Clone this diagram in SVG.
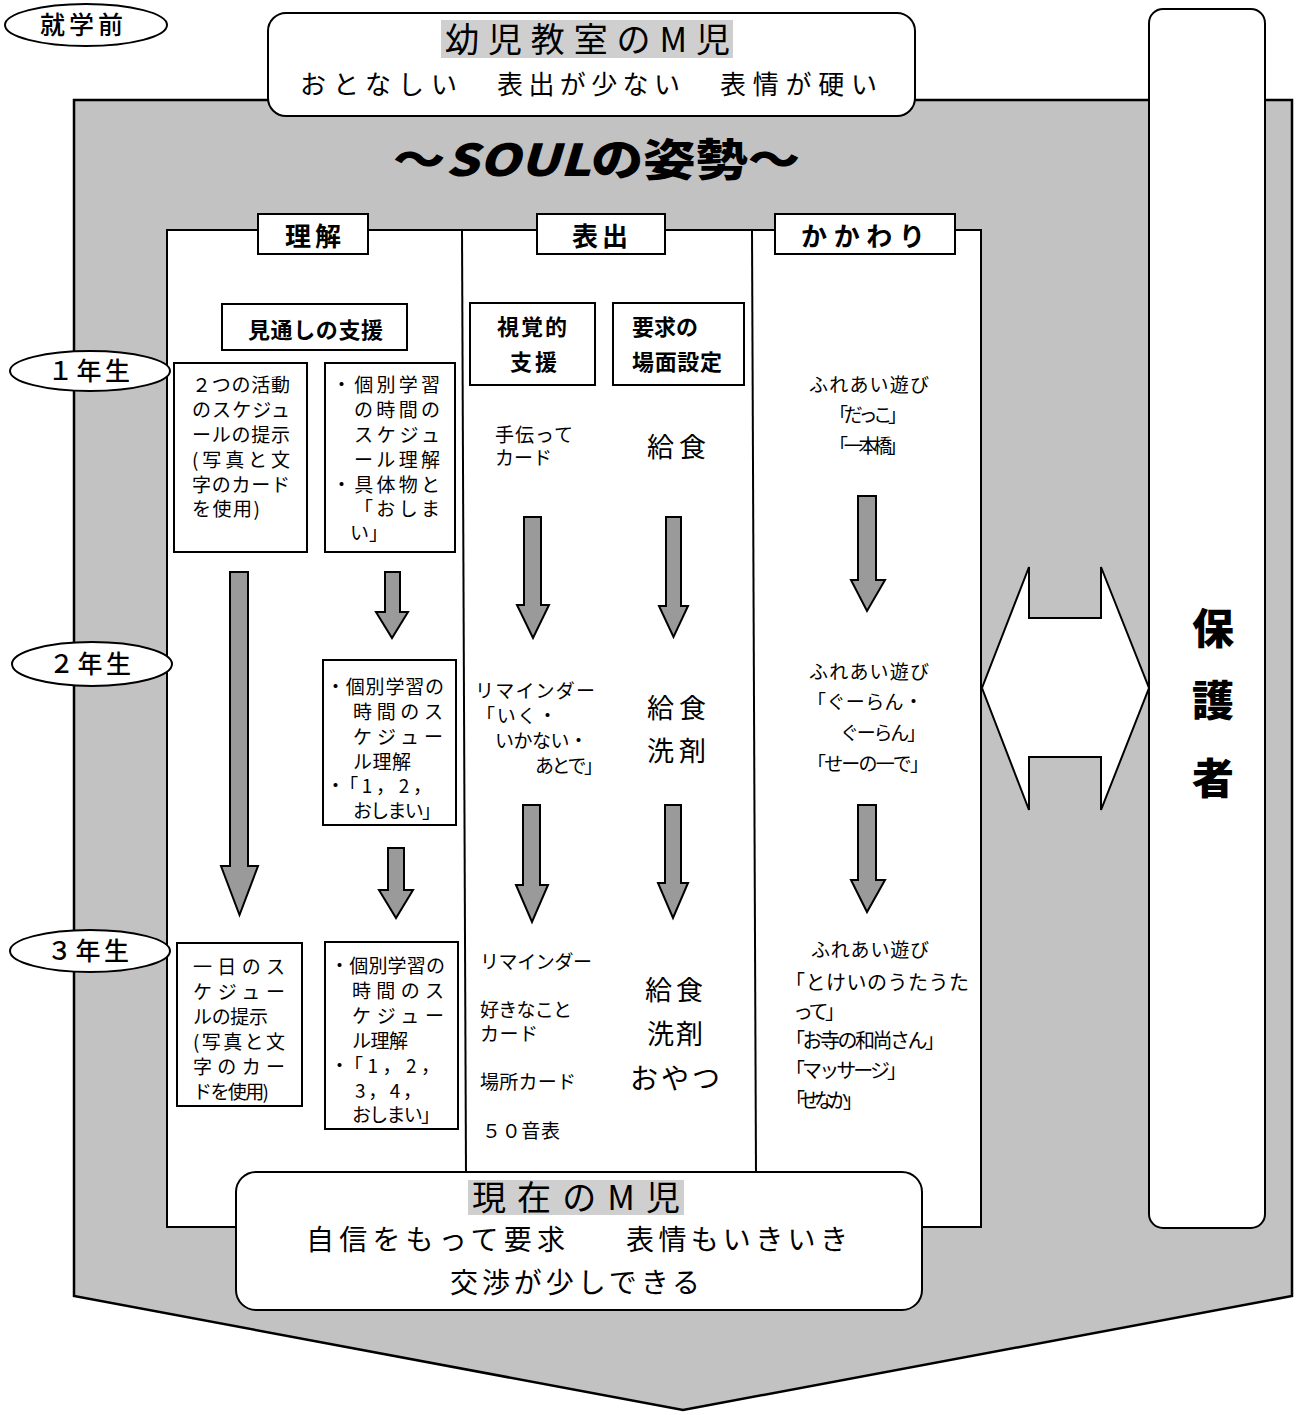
<svg xmlns="http://www.w3.org/2000/svg" width="1300" height="1415" viewBox="0 0 1300 1415">
<style>
.t{font-family:"Noto Sans CJK JP","Noto Sans",sans-serif;fill:#000}
.b{font-weight:700}
.box{fill:#fff;stroke:#000;stroke-width:2}
.arr{fill:#9a9a9a;stroke:#000;stroke-width:2;stroke-linejoin:miter}
.hl{fill:#cfcfcf}
.ln{stroke:#000;stroke-width:2;fill:none}
</style>
<rect width="1300" height="1415" fill="#fff"/>
<g id="background">
<path d="M74 100 H1292 V1296 L683 1410 L74 1296 Z" fill="#c2c2c2" stroke="#000" stroke-width="2.5"/>
<rect x="167" y="230" width="814" height="997" class="box"/>
<line x1="462" y1="230" x2="466" y2="1175" class="ln"/>
<line x1="752" y1="230" x2="756" y2="1175" class="ln"/>
</g>
<g id="title">
<text class="t" x="393" y="176" font-size="44" font-weight="900" textLength="407" lengthAdjust="spacingAndGlyphs">～<tspan font-style="italic">SOUL</tspan>の姿勢～</text>
</g>
<g id="before">
<ellipse cx="86" cy="25" rx="81" ry="21" class="box"/>
<text class="t" x="40" y="34" font-size="25" font-weight="500" textLength="83">就学前</text>
</g>
<g id="top-box">
<rect x="268" y="13" width="647" height="103" rx="18" class="box"/>
<rect x="441" y="20" width="292" height="38" class="hl"/>
<text class="t" x="445" y="52" font-size="34" textLength="285">幼児教室のM児</text>
<text class="t" x="300" y="94" font-size="26" textLength="157">おとなしい</text>
<text class="t" x="497" y="94" font-size="26" textLength="183">表出が少ない</text>
<text class="t" x="720" y="94" font-size="26" textLength="157">表情が硬い</text>
</g>
<g id="parents">
<rect x="1149" y="9" width="116" height="1219" rx="14" class="box"/>
<text class="t" x="1213" y="644" font-size="42" font-weight="900" text-anchor="middle">保</text>
<text class="t" x="1213" y="716" font-size="42" font-weight="900" text-anchor="middle">護</text>
<text class="t" x="1213" y="794" font-size="42" font-weight="900" text-anchor="middle">者</text>
</g>
<g id="headers">
<rect x="258" y="214" width="110" height="40" class="box"/>
<text class="t b" x="285" y="246" font-size="26" textLength="56">理解</text>
<rect x="537" y="214" width="128" height="40" class="box"/>
<text class="t b" x="572" y="246" font-size="26" textLength="56">表出</text>
<rect x="775" y="214" width="180" height="40" class="box"/>
<text class="t b" x="801" y="246" font-size="26" textLength="124">かかわり</text>
</g>
<g id="connectors">
<path class="arr" d="M230 572 H248 V866 H258 L239.5 915 L221 866 H230 Z"/>
<path class="arr" d="M385 572 H400 V612 H408 L392 638 L376 612 H385 Z"/>
<path class="arr" d="M388 848 H404 V890 H413 L396 918 L379 890 H388 Z"/>
<path class="arr" d="M524 517 H541 V605 H549 L533 638 L517 605 H524 Z"/>
<path class="arr" d="M666 517 H681 V606 H688 L673.5 637 L659 606 H666 Z"/>
<path class="arr" d="M523 805 H540 V885 H548 L532 922 L516 885 H523 Z"/>
<path class="arr" d="M665 805 H681 V883 H688 L673 918 L658 883 H665 Z"/>
<path class="arr" d="M858 496 H876 V580 H885 L867 611 L851 580 H858 Z"/>
<path class="arr" d="M858 805 H876 V880 H885 L867 912 L851 880 H858 Z"/>
<path d="M1029 567 V618 H1101 V567 L1149 688 L1101 810 V757 H1029 V810 L982 688 Z" fill="#fff" stroke="#000" stroke-width="2"/>
</g>
<g id="years">
<ellipse cx="90" cy="371" rx="80" ry="20" class="box"/>
<text class="t" x="48" y="380" font-size="25" font-weight="500" textLength="82">１年生</text>
<ellipse cx="92" cy="664" rx="80" ry="22" class="box"/>
<text class="t" x="49" y="673" font-size="25" font-weight="500" textLength="82">２年生</text>
<ellipse cx="90" cy="951" rx="80" ry="21" class="box"/>
<text class="t" x="47" y="960" font-size="25" font-weight="500" textLength="82">３年生</text>
</g>
<g id="understanding">
<rect x="222" y="304" width="185" height="46" class="box"/>
<text class="t b" x="248" y="338" font-size="22" textLength="135">見通しの支援</text>
<rect x="174" y="363" width="133" height="189" class="box"/>
<g class="t" font-size="19">
<text x="192" y="392" textLength="98">２つの活動</text>
<text x="192" y="417" textLength="98">のスケジュ</text>
<text x="192" y="442" textLength="98">ールの提示</text>
<text x="192" y="467" textLength="98">(写真と文</text>
<text x="192" y="492" textLength="98">字のカード</text>
<text x="192" y="516" textLength="68">を使用)</text>
</g>
<rect x="325" y="363" width="130" height="189" class="box"/>
<g class="t" font-size="19">
<text x="332" y="392" textLength="108">・個別学習</text>
<text x="354" y="417" textLength="86">の時間の</text>
<text x="354" y="442" textLength="86">スケジュ</text>
<text x="354" y="467" textLength="86">ール理解</text>
<text x="332" y="492" textLength="108">・具体物と</text>
<text x="354" y="516" textLength="86">「おしま</text>
<text x="350" y="540" textLength="38">い」</text>
</g>
<rect x="323" y="660" width="133" height="165" class="box"/>
<g class="t" font-size="19">
<text x="326" y="694" textLength="118">・個別学習の</text>
<text x="353" y="719" textLength="90">時間のス</text>
<text x="353" y="744" textLength="90">ケジュー</text>
<text x="353" y="769" textLength="58">ル理解</text>
<text x="326" y="793" textLength="106">・「1，2，</text>
<text x="353" y="818" textLength="88">おしまい」</text>
</g>
<rect x="177" y="943" width="125" height="163" class="box"/>
<g class="t" font-size="19">
<text x="193" y="974" textLength="92">一日のス</text>
<text x="193" y="999" textLength="92">ケジュー</text>
<text x="193" y="1024" textLength="75">ルの提示</text>
<text x="193" y="1049" textLength="92">(写真と文</text>
<text x="193" y="1074" textLength="92">字のカー</text>
<text x="193" y="1099" textLength="76">ドを使用)</text>
</g>
<rect x="325" y="942" width="133" height="187" class="box"/>
<g class="t" font-size="19">
<text x="330" y="973" textLength="115">・個別学習の</text>
<text x="352" y="998" textLength="92">時間のス</text>
<text x="352" y="1023" textLength="92">ケジュー</text>
<text x="352" y="1048" textLength="56">ル理解</text>
<text x="330" y="1073" textLength="110">・「1，2，</text>
<text x="355" y="1098" textLength="67">3，4，</text>
<text x="352" y="1122" textLength="88">おしまい」</text>
</g>
</g>
<g id="expression">
<rect x="470" y="303" width="125" height="82" class="box"/>
<text class="t b" x="497" y="335" font-size="22" textLength="70">視覚的</text>
<text class="t b" x="510" y="370" font-size="22" textLength="47">支援</text>
<rect x="613" y="303" width="131" height="82" class="box"/>
<text class="t b" x="632" y="335" font-size="22" textLength="66">要求の</text>
<text class="t b" x="632" y="370" font-size="22" textLength="90">場面設定</text>
<g class="t" font-size="19">
<text x="495" y="442" textLength="78">手伝って</text>
<text x="495" y="465" textLength="57">カード</text>
<text x="475" y="698" textLength="120">リマインダー</text>
<text x="476" y="723" textLength="81">「いく・</text>
<text x="495" y="748" textLength="93">いかない・</text>
<text x="535" y="773" textLength="68">あとで」</text>
<text x="480" y="969" textLength="112">リマインダー</text>
<text x="480" y="1017" textLength="92">好きなこと</text>
<text x="480" y="1041" textLength="58">カード</text>
<text x="480" y="1089" textLength="96">場所カード</text>
<text x="482" y="1138" textLength="78">５０音表</text>
</g>
<g class="t" font-size="27">
<text x="647" y="457" textLength="59">給食</text>
<text x="647" y="718" textLength="59">給食</text>
<text x="647" y="761" textLength="59">洗剤</text>
<text x="645" y="1000" textLength="58">給食</text>
<text x="647" y="1044" textLength="56">洗剤</text>
<text x="630" y="1089" font-size="28" textLength="90">おやつ</text>
</g>
</g>
<g id="relation">
<g class="t" font-size="19">
<text x="809" y="392" textLength="120">ふれあい遊び</text>
<text x="829" y="422" textLength="78">「だっこ」</text>
<text x="829" y="453" textLength="78">「一本橋」</text>
<text x="809" y="679" textLength="120">ふれあい遊び</text>
<text x="807" y="709" textLength="116">「ぐーらん・</text>
<text x="840" y="740" textLength="86">ぐーらん」</text>
<text x="807" y="771" textLength="122">「せーの一で」</text>
<text x="811" y="957" textLength="118">ふれあい遊び</text>
</g>
<g class="t" font-size="20">
<text x="785" y="990" textLength="184">「とけいのうたうた</text>
<text x="793" y="1019" textLength="52">って」</text>
<text x="785" y="1048" textLength="160">「お寺の和尚さん」</text>
<text x="785" y="1078" textLength="122">「マッサージ」</text>
<text x="785" y="1108" textLength="78">「せなか」</text>
</g>
</g>
<g id="bottom-box">
<rect x="236" y="1172" width="686" height="138" rx="20" class="box"/>
<rect x="468" y="1180" width="216" height="35" class="hl"/>
<text class="t" x="472" y="1210" font-size="34" textLength="208">現在のM児</text>
<text class="t" x="306" y="1250" font-size="28" textLength="259">自信をもって要求</text>
<text class="t" x="626" y="1250" font-size="28" textLength="222">表情もいきいき</text>
<text class="t" x="450" y="1293" font-size="28" textLength="250">交渉が少しできる</text>
</g>
</svg>
